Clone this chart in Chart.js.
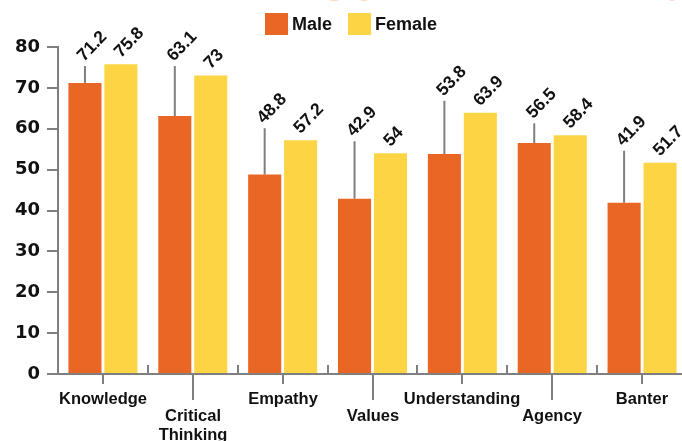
<!DOCTYPE html>
<html>
<head>
<meta charset="utf-8">
<script src="https://cdn.jsdelivr.net/npm/chart.js@4/dist/chart.umd.min.js"></script>
<style>
  html, body { margin: 0; padding: 0; background: #fff; overflow: hidden; }
  #wrap { position: relative; width: 690px; height: 441px; }
</style>
</head>
<body>
<div id="wrap"><canvas id="c"></canvas></div>
<script>
// Survey scores by attribute, split by gender
const categories = ['Knowledge', ['Critical', 'Thinking'], 'Empathy', 'Values', 'Understanding', 'Agency', 'Banter'];
const maleValues = [71.2, 63.1, 48.8, 42.9, 53.8, 56.5, 41.9];
const femaleValues = [75.8, 73, 57.2, 54, 63.9, 58.4, 51.7];
const seriesNames = ['Male', 'Female'];
const yTickValues = [0, 10, 20, 30, 40, 50, 60, 70, 80];

const MALE = '#EA6625';
const FEMALE = '#FDD444';
const AXIS = '#7f7f7f';
const INK = '#111111';
const LABEL_FONT = 'bold 16.5px "Liberation Sans", Arial, sans-serif';
const VALUE_FONT = 'bold 17.5px "Liberation Sans Narrow", "Liberation Sans", Arial, sans-serif';

// Draws the legend, the staggered category labels with their tick marks,
// and the rotated value labels (with leader lines for the male bars).
const decorations = {
  id: 'decorations',
  afterDraw(chart) {
    const ctx = chart.ctx;
    const x = chart.scales.x;
    const area = chart.chartArea;
    const base = area.bottom;

    // faint header ornaments peeking in at the top edge
    ctx.save();
    ctx.fillStyle = 'rgba(240, 140, 80, 0.35)';
    [[334, -6, 11, 7], [364, -5, 7, 6], [672, -4, 5, 5]].forEach(([ex, ey, rx, ry]) => {
      ctx.beginPath();
      ctx.ellipse(ex, ey, rx, ry, 0, 0, Math.PI * 2);
      ctx.fill();
    });
    ctx.restore();

    // legend
    ctx.save();
    ctx.font = 'bold 18px "Liberation Sans", Arial, sans-serif';
    ctx.textBaseline = 'alphabetic';
    ctx.textAlign = 'left';
    const legend = [[265, MALE, seriesNames[0]], [348, FEMALE, seriesNames[1]]];
    legend.forEach(([lx, col, txt]) => {
      ctx.fillStyle = col;
      ctx.fillRect(lx, 13, 23, 22);
      ctx.fillStyle = INK;
      ctx.fillText(txt, lx + 27, 30);
    });
    ctx.restore();

    // x-axis ticks and category labels
    ctx.save();
    ctx.strokeStyle = AXIS;
    ctx.lineWidth = 2;
    const n = categories.length;
    const step = (area.right - area.left) / n;
    for (let i = 1; i < n; i++) {
      const bx = Math.round(area.left + step * i);
      ctx.beginPath();
      ctx.moveTo(bx, base);
      ctx.lineTo(bx, base - 9);
      ctx.stroke();
    }
    ctx.font = LABEL_FONT;
    ctx.fillStyle = INK;
    ctx.textAlign = 'center';
    ctx.textBaseline = 'alphabetic';
    categories.forEach((cat, i) => {
      const cx = Math.round(x.getPixelForValue(i));
      const lower = i % 2 === 1;
      ctx.beginPath();
      ctx.moveTo(cx, base);
      ctx.lineTo(cx, base + (lower ? 26 : 10));
      ctx.stroke();
      const lines = Array.isArray(cat) ? cat : [cat];
      const y0 = lower ? 421 : 404;
      lines.forEach((t, k) => ctx.fillText(t, cx, y0 + k * 19));
    });
    ctx.restore();

    // value labels
    const mMeta = chart.getDatasetMeta(0).data;
    const fMeta = chart.getDatasetMeta(1).data;
    const ang = -46 * Math.PI / 180;
    const drawLabel = (px, py, txt) => {
      ctx.save();
      ctx.translate(px, py);
      ctx.rotate(ang);
      ctx.font = VALUE_FONT;
      ctx.fillStyle = INK;
      ctx.textAlign = 'left';
      ctx.textBaseline = 'alphabetic';
      ctx.fillText(txt, 0, 0);
      ctx.restore();
    };
    for (let i = 0; i < n; i++) {
      const mb = mMeta[i], fb = fMeta[i];
      const anchorY = Math.min(mb.y, Math.max(fb.y - 12, 66));
      if (mb.y - anchorY > 1) {
        ctx.save();
        ctx.strokeStyle = AXIS;
        ctx.lineWidth = 2;
        ctx.beginPath();
        ctx.moveTo(mb.x, mb.y);
        ctx.lineTo(mb.x, anchorY);
        ctx.stroke();
        ctx.restore();
      }
      drawLabel(mb.x - 1, anchorY - 4, String(maleValues[i]));
      drawLabel(fb.x, fb.y - 6, String(femaleValues[i]));
    }
  }
};

new Chart(document.getElementById('c'), {
  type: 'bar',
  data: {
    labels: categories,
    datasets: [
      { label: seriesNames[0], data: maleValues, backgroundColor: MALE, borderWidth: 0,
        categoryPercentage: 0.8, barPercentage: 0.92 },
      { label: seriesNames[1], data: femaleValues, backgroundColor: FEMALE, borderWidth: 0,
        categoryPercentage: 0.8, barPercentage: 0.92 }
    ]
  },
  options: {
    responsive: true,
    maintainAspectRatio: false,
    animation: false,
    devicePixelRatio: 1,
    layout: { padding: { top: 47, right: 3, left: 0, bottom: 0 } },
    plugins: { legend: { display: false }, tooltip: { enabled: false } },
    scales: {
      x: {
        grid: { display: false },
        border: { display: true, color: AXIS, width: 2 },
        ticks: { display: false },
        afterFit: s => { s.height = 67; }
      },
      y: {
        min: 0,
        max: 80,
        afterBuildTicks: s => { s.ticks = yTickValues.map(v => ({ value: v })); },
        grid: { display: true, drawOnChartArea: false, drawTicks: true, tickLength: 11,
                color: AXIS, lineWidth: 2 },
        border: { display: true, color: AXIS, width: 2 },
        ticks: { color: INK, padding: 7, font: { family: 'DejaVu Sans', size: 18, weight: 'bold' } },
        afterFit: s => { s.width = 58; }
      }
    }
  },
  plugins: [decorations]
});
</script>
</body>
</html>
